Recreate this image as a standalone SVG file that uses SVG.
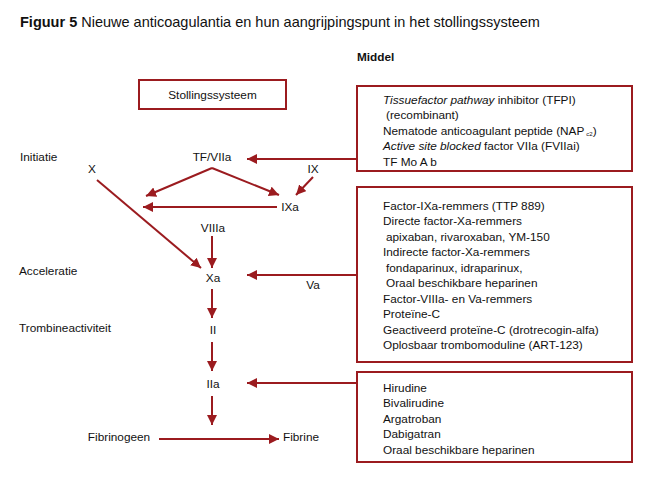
<svg xmlns="http://www.w3.org/2000/svg" width="650" height="484" viewBox="0 0 650 484">
<defs>
<style>
text{font-family:"Liberation Sans",Arial,sans-serif;font-size:11.8px;fill:#111}
.t{font-size:14.5px}
.b{font-weight:bold}
.c{text-anchor:middle}
.box{fill:#fff;stroke:#9b1b1f;stroke-width:2}
.ln{stroke:#9b1b1f;stroke-width:2;fill:none}
</style>
<marker id="ah" viewBox="0 0 10 10" refX="10" refY="5" markerWidth="10" markerHeight="10" markerUnits="userSpaceOnUse" orient="auto">
<path d="M0,0 L10,5 L0,10 z" fill="#9b1b1f"/>
</marker>
</defs>
<rect width="650" height="484" fill="#fff"/>
<text x="20" y="27" class="t"><tspan class="b">Figuur 5</tspan> Nieuwe anticoagulantia en hun aangrijpingspunt in het stollingssysteem</text>
<text x="357" y="61" class="b" font-size="12">Middel</text>

<g id="stollingssysteem">
<rect class="box" x="139" y="80" width="147" height="29"/>
<text x="212.5" y="99" class="c">Stollingssysteem</text>
</g>

<g id="labels">
<text x="20" y="161">Initiatie</text>
<text x="19" y="275">Acceleratie</text>
<text x="19" y="332">Trombineactiviteit</text>
</g>

<g id="n-tfviia"><text x="212" y="161" class="c">TF/VIIa</text></g>
<g id="n-x"><text x="92" y="173" class="c">X</text></g>
<g id="n-ix"><text x="313" y="173" class="c">IX</text></g>
<g id="n-ixa"><text x="290" y="211" class="c">IXa</text></g>
<g id="n-viiia"><text x="213" y="232" class="c">VIIIa</text></g>
<g id="n-xa"><text x="213" y="282" class="c">Xa</text></g>
<g id="n-va"><text x="313" y="289" class="c">Va</text></g>
<g id="n-ii"><text x="213" y="334" class="c">II</text></g>
<g id="n-iia"><text x="213" y="388" class="c">IIa</text></g>
<g id="n-fibrinogeen"><text x="119" y="441" class="c">Fibrinogeen</text></g>
<g id="n-fibrine"><text x="301" y="441" class="c">Fibrine</text></g>

<g id="box1">
<rect class="box" x="357" y="86" width="275" height="85"/>
<text x="383" y="104"><tspan font-style="italic">Tissuefactor pathway</tspan> inhibitor (TFPI)</text>
<text x="386" y="119">(recombinant)</text>
<text x="383" y="135">Nematode anticoagulant peptide (NAP<tspan font-size="6" dx="2" dy="1">c2</tspan><tspan dy="-1">)</tspan></text>
<text x="383" y="150"><tspan font-style="italic">Active site blocked</tspan> factor VIIa (FVIIai)</text>
<text x="383" y="166">TF Mo A b</text>
</g>

<g id="box2">
<rect class="box" x="357" y="187" width="275" height="175"/>
<text x="383" y="210">Factor-IXa-remmers (TTP 889)</text>
<text x="383" y="225">Directe factor-Xa-remmers</text>
<text x="386" y="241">apixaban, rivaroxaban, YM-150</text>
<text x="383" y="256">Indirecte factor-Xa-remmers</text>
<text x="386" y="272">fondaparinux, idraparinux,</text>
<text x="386" y="287">Oraal beschikbare heparinen</text>
<text x="383" y="303">Factor-VIIIa- en Va-remmers</text>
<text x="383" y="318">Proteïne-C</text>
<text x="383" y="334">Geactiveerd proteïne-C (drotrecogin-alfa)</text>
<text x="383" y="349">Oplosbaar trombomoduline (ART-123)</text>
</g>

<g id="box3">
<rect class="box" x="357" y="372" width="275" height="90"/>
<text x="383" y="392">Hirudine</text>
<text x="383" y="407">Bivalirudine</text>
<text x="383" y="423">Argatroban</text>
<text x="383" y="438">Dabigatran</text>
<text x="383" y="454">Oraal beschikbare heparinen</text>
</g>

<g id="connectors">
<line class="ln" x1="356" y1="159" x2="247" y2="159" marker-end="url(#ah)"/>
<line class="ln" x1="356" y1="275" x2="247" y2="275" marker-end="url(#ah)"/>
<line class="ln" x1="356" y1="383" x2="247" y2="383" marker-end="url(#ah)"/>
<line class="ln" x1="212" y1="168" x2="146" y2="196" marker-end="url(#ah)"/>
<line class="ln" x1="212" y1="168" x2="279" y2="195" marker-end="url(#ah)"/>
<line class="ln" x1="313" y1="177" x2="296" y2="195" marker-end="url(#ah)"/>
<line class="ln" x1="277" y1="207" x2="143" y2="207" marker-end="url(#ah)"/>
<line class="ln" x1="97" y1="180" x2="201" y2="268" marker-end="url(#ah)"/>
<line class="ln" x1="212" y1="236" x2="212" y2="268" marker-end="url(#ah)"/>
<line class="ln" x1="212" y1="289" x2="212" y2="318" marker-end="url(#ah)"/>
<line class="ln" x1="212" y1="342" x2="212" y2="371" marker-end="url(#ah)"/>
<line class="ln" x1="212" y1="396" x2="212" y2="425" marker-end="url(#ah)"/>
<line class="ln" x1="159" y1="439" x2="279" y2="439" marker-end="url(#ah)"/>
</g>
</svg>
